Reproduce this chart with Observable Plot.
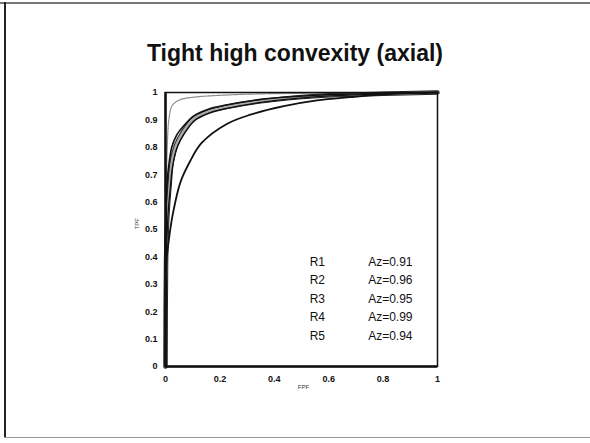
<!DOCTYPE html>
<html>
<head>
<meta charset="utf-8">
<script src="https://cdn.jsdelivr.net/npm/d3@7"></script>
<script src="https://cdn.jsdelivr.net/npm/@observablehq/plot@0.6"></script>
<style>
  html, body { margin: 0; padding: 0; background: #fff; }
  #page { position: relative; width: 590px; height: 443px; overflow: hidden; font-family: "Liberation Sans", Arial, sans-serif; }
  #title { position: absolute; left: 0; width: 590px; top: 40px; text-align: center; font-weight: bold; font-size: 23px; color: #111; }
  #bt { position: absolute; left: 0; top: 2px; width: 590px; height: 0; border-top: 2px solid #777; }
  #bl { position: absolute; left: 4px; top: 2px; width: 0; height: 436px; border-left: 2px solid #222; }
  #bb { position: absolute; left: 4px; top: 437px; width: 586px; height: 0; border-top: 1px solid #999; }
  #chart { position: absolute; left: 0; top: 0; }
</style>
</head>
<body>
<div id="page">
  <div id="chart"></div>
  <div id="title">Tight high convexity (axial)</div>
  <div id="bt"></div><div id="bl"></div><div id="bb"></div>
</div>
<script>
// Series values (FPF, TPF)
const r1Fpf = [0, 0.001, 0.004, 0.012, 0.027, 0.055, 0.09, 0.132, 0.227, 0.3125, 0.435, 0.557, 0.68, 0.8, 0.9, 1];
const r1Tpf = [0, 0.30, 0.39, 0.46, 0.557, 0.673, 0.748, 0.815, 0.886, 0.919, 0.95, 0.971, 0.983, 0.993, 0.998, 1];

const r2Fpf = [0, 0.001, 0.003, 0.006, 0.012, 0.023, 0.04, 0.064, 0.104, 0.16, 0.227, 0.35, 0.557, 0.8, 1];
const r2Tpf = [0, 0.42, 0.58, 0.67, 0.734, 0.80, 0.843, 0.875, 0.915, 0.94, 0.955, 0.975, 0.99, 0.997, 1];

const r3Fpf = [0, 0.002, 0.006, 0.01, 0.015, 0.023, 0.04, 0.064, 0.104, 0.16, 0.227, 0.35, 0.557, 0.8, 1];
const r3Tpf = [0, 0.38, 0.53, 0.60, 0.66, 0.746, 0.81, 0.855, 0.905, 0.932, 0.948, 0.968, 0.987, 0.995, 1];

const r4Fpf = [0, 0.001, 0.003, 0.005, 0.008, 0.012, 0.025, 0.055, 0.104, 0.227, 0.35, 0.5, 0.7, 1];
const r4Tpf = [0, 0.50, 0.65, 0.75, 0.84, 0.898, 0.953, 0.974, 0.983, 0.991, 0.995, 0.997, 0.999, 1];

const r5Fpf = [0, 0.002, 0.007, 0.011, 0.017, 0.026, 0.043, 0.068, 0.108, 0.165, 0.23, 0.35, 0.557, 0.8, 1];
const r5Tpf = [0, 0.36, 0.51, 0.58, 0.645, 0.73, 0.80, 0.848, 0.898, 0.926, 0.943, 0.964, 0.985, 0.994, 1];

// Legend
const readers = ["R1", "R2", "R3", "R4", "R5"];
const azValues = [0.91, 0.96, 0.95, 0.99, 0.94];

// Tick labels
const xTicks = [0, 0.2, 0.4, 0.6, 0.8, 1];
const yTicks = [0, 0.1, 0.2, 0.3, 0.4, 0.5, 0.6, 0.7, 0.8, 0.9, 1];

const toPts = (xs, ys) => xs.map((x, i) => ({x, y: ys[i]}));
const r1 = toPts(r1Fpf, r1Tpf), r2 = toPts(r2Fpf, r2Tpf), r3 = toPts(r3Fpf, r3Tpf),
      r4 = toPts(r4Fpf, r4Tpf), r5 = toPts(r5Fpf, r5Tpf);
const legend = readers.map((r, i) => ({r, az: "Az=" + azValues[i].toFixed(2), i}));
const fmt = d => String(+d.toFixed(1));
const cv = "catmull-rom";

const plot = Plot.plot({
  width: 590,
  height: 443,
  marginLeft: 165,
  marginRight: 153,
  marginTop: 92,
  marginBottom: 77,
  style: {fontFamily: "'Liberation Sans', Arial, sans-serif", background: "transparent", color: "#111"},
  x: {domain: [0, 1]},
  y: {domain: [0, 1]},
  marks: [
    Plot.axisY({ticks: yTicks, tickFormat: fmt, tickSize: 0, tickPadding: 8, fontSize: 9, fontWeight: "bold", label: null}),
    Plot.axisX({ticks: xTicks, tickFormat: fmt, tickSize: 0, tickPadding: 9, fontSize: 9, fontWeight: "bold", label: null}),
    Plot.text(["TPF"], {frameAnchor: "left", dx: -28, rotate: -90, fontSize: 6, fill: "#333"}),
    Plot.text(["FPF"], {frameAnchor: "bottom", dy: 22, dx: 2, fontSize: 6, fill: "#333"}),
    Plot.line(r4, {x: "x", y: "y", stroke: "#8a8a8a", strokeWidth: 1.2, strokeDasharray: "1.5,1", curve: cv}),
    Plot.line(r3, {x: "x", y: "y", stroke: "#222", strokeWidth: 4.5, curve: cv}),
    Plot.line(r3, {x: "x", y: "y", stroke: "#aaa", strokeWidth: 2.5, curve: cv}),
    Plot.line(r5, {x: "x", y: "y", stroke: "#111", strokeWidth: 1.3, curve: cv}),
    Plot.line(r2, {x: "x", y: "y", stroke: "#111", strokeWidth: 1.6, curve: cv}),
    Plot.line(r1, {x: "x", y: "y", stroke: "#111", strokeWidth: 1.8, curve: cv}),
    Plot.frame({stroke: "#111", strokeWidth: 1.5}),
    Plot.ruleX([0], {stroke: "#111", strokeWidth: 2.5}),
    Plot.ruleY([0], {stroke: "#111", strokeWidth: 2.5}),
    Plot.text(legend, {x: 0.53, y: d => 0.381 - d.i * 0.0675, text: "r", textAnchor: "start", fontSize: 12, fill: "#111"}),
    Plot.text(legend, {x: 0.745, y: d => 0.381 - d.i * 0.0675, text: "az", textAnchor: "start", fontSize: 12, fill: "#111"})
  ]
});
document.getElementById("chart").appendChild(plot);
</script>
</body>
</html>
